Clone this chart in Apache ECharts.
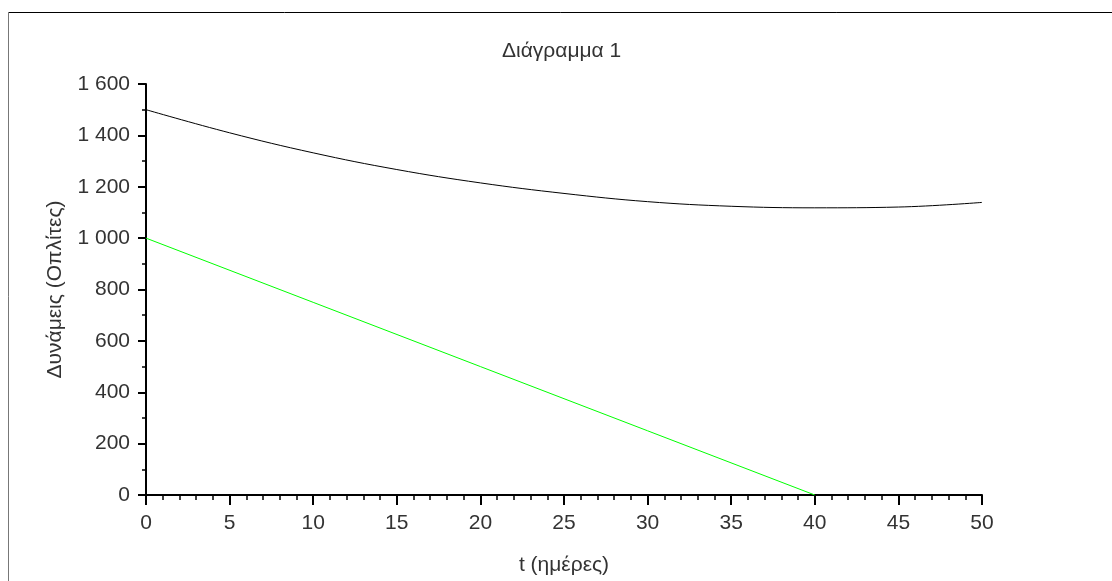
<!DOCTYPE html>
<html>
<head>
<meta charset="utf-8">
<script src="https://cdn.jsdelivr.net/npm/echarts@6/dist/echarts.min.js"></script>
<style>
  html, body { margin: 0; padding: 0; background: #fff; }
  #chart { width: 1112px; height: 581px; }
</style>
</head>
<body>
<div id="chart"></div>
<script>
// t (days) and strength of the two armies
var days = [0, 5, 10, 15, 20, 25, 30, 35, 40, 45, 50];
var armyBlack = [1500, 1410, 1332, 1267, 1215, 1174, 1142, 1124, 1118, 1121, 1139];
var greenDays = [0, 10, 20, 30, 40];
var armyGreen = [1000, 750, 500, 250, 0];

var FONT = '"Liberation Sans", Arial, sans-serif';
var TXT = '#333';

var pairs = function (xs, ys) {
    var out = [];
    for (var i = 0; i < xs.length; i++) out.push([xs[i], ys[i]]);
    return out;
};

// 1600 -> "1 600"
var fmtThousands = function (v) {
    var s = String(v);
    return s.length > 3 ? s.slice(0, s.length - 3) + ' ' + s.slice(-3) : s;
};

var myChart = echarts.init(document.getElementById('chart'));
myChart.setOption({
    animation: false,
    backgroundColor: '#fff',
    title: {
        text: 'Διάγραμμα 1',
        left: 502,
        top: 41,
        padding: 0,
        textStyle: { fontFamily: FONT, fontSize: 21, fontWeight: 'normal', color: TXT }
    },
    grid: { left: 146, right: 130, top: 84, bottom: 84 },
    graphic: [
        { type: 'line', shape: { x1: 8.5, y1: 12.5, x2: 1112, y2: 12.5 }, style: { stroke: '#000', lineWidth: 1 } },
        { type: 'line', shape: { x1: 8.5, y1: 12.5, x2: 8.5, y2: 581 }, style: { stroke: '#777', lineWidth: 1 } }
    ],
    xAxis: {
        type: 'value',
        min: 0,
        max: 50,
        interval: 5,
        name: 't (ημέρες)',
        nameLocation: 'middle',
        nameGap: 60,
        nameTextStyle: { fontFamily: FONT, fontSize: 21, color: TXT },
        axisLine: { lineStyle: { color: '#000', width: 2 } },
        axisTick: { length: 10, lineStyle: { color: '#000', width: 2 } },
        minorTick: { show: true, splitNumber: 5, length: 5, lineStyle: { color: '#000', width: 1.5 } },
        splitLine: { show: false },
        axisLabel: { margin: 18, fontFamily: FONT, fontSize: 21, color: TXT }
    },
    yAxis: {
        type: 'value',
        min: 0,
        max: 1600,
        interval: 200,
        name: 'Δυνάμεις (Οπλίτες)',
        nameLocation: 'middle',
        nameGap: 80,
        nameTextStyle: { fontFamily: FONT, fontSize: 21, color: TXT },
        axisLine: { show: true, lineStyle: { color: '#000', width: 2 } },
        axisTick: { show: true, length: 8, lineStyle: { color: '#000', width: 2 } },
        minorTick: { show: true, splitNumber: 2, length: 4, lineStyle: { color: '#000', width: 1.5 } },
        splitLine: { show: false },
        axisLabel: { margin: 16, fontFamily: FONT, fontSize: 21, color: TXT, formatter: fmtThousands }
    },
    series: [
        {
            type: 'line',
            data: pairs(days, armyBlack),
            smooth: 0.4,
            showSymbol: false,
            lineStyle: { color: '#000', width: 1 }
        },
        {
            type: 'line',
            data: pairs(greenDays, armyGreen),
            showSymbol: false,
            lineStyle: { color: '#00ff00', width: 1 }
        }
    ]
});
</script>
</body>
</html>
